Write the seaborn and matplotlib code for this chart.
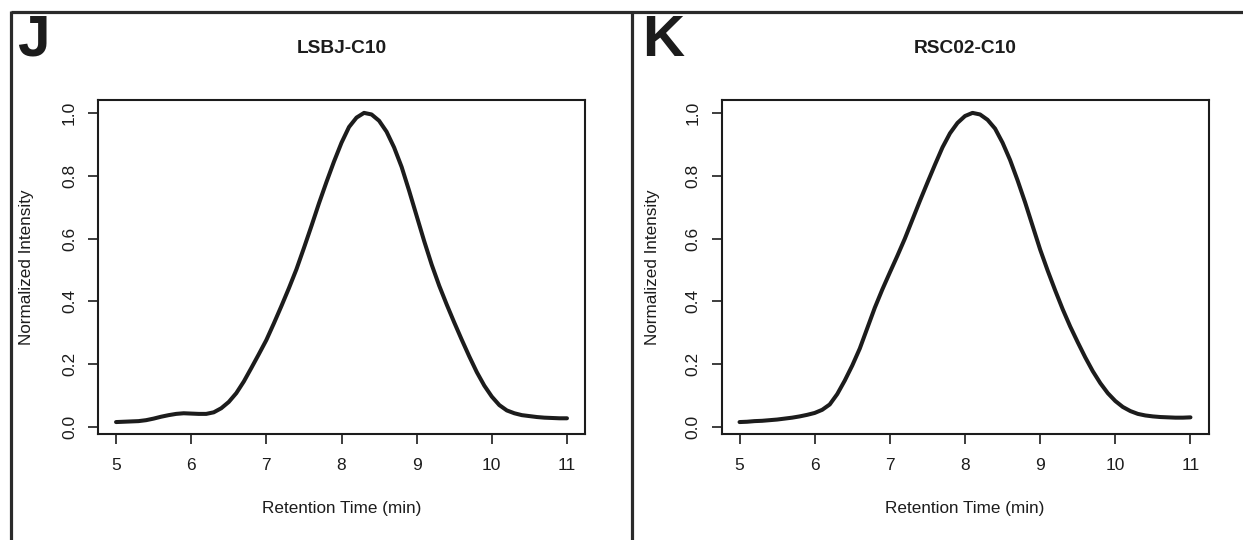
import matplotlib
matplotlib.use("Agg")
import matplotlib.pyplot as plt
import seaborn as sns
from matplotlib.lines import Line2D

#----------------------------------------------------------------------------------------------------------------
# data (0.1 min steps)
time_min = [5.0, 5.1, 5.2, 5.3, 5.4, 5.5, 5.6, 5.7, 5.8, 5.9,
            6.0, 6.1, 6.2, 6.3, 6.4, 6.5, 6.6, 6.7, 6.8, 6.9,
            7.0, 7.1, 7.2, 7.3, 7.4, 7.5, 7.6, 7.7, 7.8, 7.9,
            8.0, 8.1, 8.2, 8.3, 8.4, 8.5, 8.6, 8.7, 8.8, 8.9,
            9.0, 9.1, 9.2, 9.3, 9.4, 9.5, 9.6, 9.7, 9.8, 9.9,
            10.0, 10.1, 10.2, 10.3, 10.4, 10.5, 10.6, 10.7, 10.8, 10.9,
            11.0]

intensity_j = [0.016, 0.017, 0.018, 0.019, 0.022, 0.027, 0.033, 0.038, 0.042, 0.044,
               0.043, 0.042, 0.042, 0.047, 0.060, 0.080, 0.108, 0.145, 0.188, 0.232,
               0.277, 0.330, 0.385, 0.442, 0.502, 0.570, 0.640, 0.712, 0.780, 0.845,
               0.905, 0.955, 0.985, 1.000, 0.995, 0.975, 0.940, 0.890, 0.828, 0.752,
               0.672, 0.592, 0.517, 0.450, 0.390, 0.333, 0.278, 0.225, 0.175, 0.132,
               0.097, 0.070, 0.053, 0.044, 0.038, 0.035, 0.032, 0.030, 0.029, 0.028,
               0.028]

intensity_k = [0.016, 0.017, 0.019, 0.020, 0.022, 0.024, 0.027, 0.030, 0.034, 0.039,
               0.045, 0.055, 0.072, 0.105, 0.148, 0.196, 0.250, 0.315, 0.380, 0.438,
               0.492, 0.545, 0.600, 0.660, 0.720, 0.778, 0.835, 0.890, 0.935, 0.968,
               0.990, 1.000, 0.995, 0.978, 0.950, 0.905, 0.850, 0.785, 0.715, 0.640,
               0.565, 0.498, 0.435, 0.375, 0.320, 0.270, 0.222, 0.178, 0.140, 0.108,
               0.083, 0.064, 0.051, 0.042, 0.037, 0.034, 0.032, 0.031, 0.030, 0.030,
               0.031]

panels = [('J', 'LSBJ-C10', intensity_j),
          ('K', 'RSC02-C10', intensity_k)]
x_ticks = [5, 6, 7, 8, 9, 10, 11]
y_ticks = [0.0, 0.2, 0.4, 0.6, 0.8, 1.0]
#----------------------------------------------------------------------------------------------------------------
sns.set_theme(style='ticks')
plt.rcParams['font.family'] = ['Liberation Sans', 'DejaVu Sans']
ink = '#1c1c1c'

W, H = 1243, 540
fig = plt.figure(figsize=(W / 100, H / 100), dpi=100)
fig.patch.set_facecolor('white')

# outer frame lines of the panels
fr = dict(color='#2a2a2a', linewidth=2.3, transform=fig.transFigure, solid_capstyle='butt')
fig.add_artist(Line2D([11 / W, 1], [1 - 12 / H, 1 - 12 / H], **fr))
fig.add_artist(Line2D([11 / W, 11 / W], [0, 1 - 11 / H], **fr))
fig.add_artist(Line2D([632 / W, 632 / W], [0, 1 - 11 / H], **fr))

AX_TOP, AX_BOT = 100, 434
ax_h = AX_BOT - AX_TOP
ax_w = 487
ax_left = [98, 721.5]
ylab_x = [27, 652]
letter_x = [17, 642]
for i, (letter, title, v) in enumerate(panels):
    left = ax_left[i]
    ax = fig.add_axes([left / W, (H - AX_BOT) / H, ax_w / W, ax_h / H])
    sns.lineplot(x=time_min, y=v, ax=ax, color=ink, linewidth=2.9)
    ax.set_xlim(4.76, 11.24)
    ax.set_ylim(-0.022, 1.041)
    ax.set_xticks(x_ticks)
    ax.set_xticklabels([str(x) for x in x_ticks])
    ax.set_yticks(y_ticks)
    ax.set_yticklabels([f'{y:.1f}' for y in y_ticks], rotation=90, va='center')
    ax.tick_params(axis='both', direction='out', length=7.2, width=1.2, color=ink,
                   labelsize=12.5, labelcolor=ink)
    ax.tick_params(axis='x', pad=10)
    ax.tick_params(axis='y', pad=8)
    for s in ax.spines.values():
        s.set_visible(True)
        s.set_linewidth(1.5)
        s.set_color(ink)
    ax.set_xlabel('Retention Time (min)', fontsize=12.3, color=ink, va='center')
    ax.set_ylabel('Normalized Intensity', fontsize=12.3, color=ink, va='center')
    ax.xaxis.set_label_coords(0.5, -(508 - AX_BOT) / ax_h)
    ax.yaxis.set_label_coords((ylab_x[i] - left) / ax_w, 0.5)
    ax.text(0.5, (AX_BOT - 48) / ax_h, title, transform=ax.transAxes, ha='center', va='center',
            fontsize=13.8, fontweight='bold', color=ink)
    ax.grid(False)
    ax.set_facecolor('white')
    fig.text(letter_x[i] / W, 1 - 14 / H, letter, ha='left', va='top', fontsize=42,
             fontweight='bold', color=ink)

plt.savefig('out.png', dpi=100)
plt.close()
